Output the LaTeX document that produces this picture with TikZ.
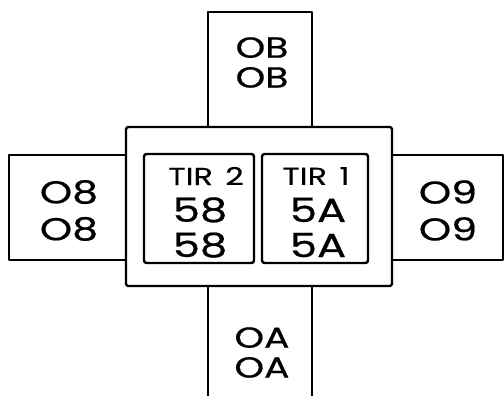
\documentclass[tikz,border=0pt]{standalone}
\usepackage{fontspec}
\setmainfont{Poppins}[FakeStretch=1.3,FakeBold=0.6]
\newfontfamily\tirfont{Poppins}[FakeStretch=1.3,FakeBold=0.2]
\begin{document}
\begin{tikzpicture}[every node/.style={align=center,inner sep=0pt},
  pad/.style={line width=1.4pt,line join=round},
  code/.style={font=\fontsize{16.5}{17}\selectfont},
  sidecode/.style={font=\fontsize{18}{21}\selectfont},
  tircode/.style={font=\fontsize{19}{20}\selectfont},
  tirname/.style={font=\tirfont\fontsize{14}{14}\selectfont}]
  \clip (0,0) rectangle (10.08,7.9);
  % outer pads
  \draw[pad] (4.16,5.36) rectangle (6.24,7.66);
  \draw[pad] (4.16,2.18) rectangle (6.24,-0.3);
  \draw[pad] (0.18,2.70) rectangle (2.52,4.80);
  \draw[pad] (7.84,2.70) rectangle (10.06,4.80);
  % centre block
  \draw[pad,fill=white,rounded corners=1pt] (2.52,2.18) rectangle (7.84,5.36);
  \draw[pad,rounded corners=1.5pt] (2.88,2.64) rectangle (5.08,4.82);
  \draw[pad,rounded corners=1.5pt] (5.24,2.64) rectangle (7.36,4.82);
  % texts
  \node[code] (top) at (5.24,6.65) {OB\\OB};
  \node[code] (bottom) at (5.24,0.85) {OA\\OA};
  \node[sidecode] (left) at (1.38,3.69) {O8\\O8};
  \node[sidecode] (right) at (8.96,3.69) {O9\\O9};
  \node[tirname] (tirtwo) at (4.12,4.38) {TIR\hspace{0.5em}2};
  \node[tircode] (codetwo) at (4.00,3.35) {58\\58};
  \node[tirname] (tirone) at (6.32,4.38) {TIR\hspace{0.5em}1};
  \node[tircode] (codeone) at (6.36,3.35) {5A\\5A};
\end{tikzpicture}
\end{document}
